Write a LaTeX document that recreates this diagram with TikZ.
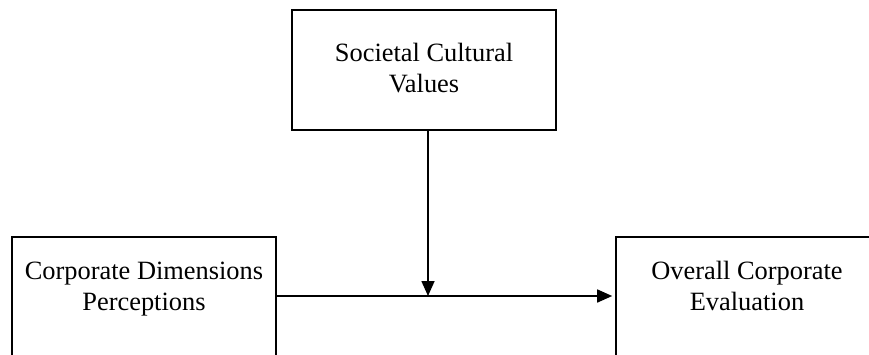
\documentclass[tikz,border=0pt]{standalone}
\usepackage{fontspec}
\setmainfont{Liberation Serif}
\usetikzlibrary{arrows.meta}
\begin{document}
\begin{tikzpicture}[x=1pt,y=-1pt,
  box/.style={draw, line width=1.6pt, minimum width=264pt, minimum height=120pt,
    align=center, inner sep=0pt, font=\fontsize{26.4}{31}\selectfont},
  arr/.style={line width=1.6pt, -{Triangle[length=15pt,width=13pt]}}]
  \useasboundingbox (0,0) rectangle (869,354);
  \clip (0,0) rectangle (869,354);
  % the three constructs
  \node[box, text depth=4pt] (scv) at (424,70) {Societal Cultural\\Values};
  \node[box, text depth=22pt] (cdp) at (144,297) {Corporate Dimensions\\Perceptions};
  \node[box, text depth=22pt, minimum width=262pt] (oce) at (747,297) {Overall Corporate\\Evaluation};
  % moderating point on the main path
  \coordinate (mid) at (428,296);
  % main effect and moderation
  \draw[arr, shorten >=3pt] (cdp.east |- mid) -- (oce.west |- mid);
  \draw[arr] (mid |- scv.south) -- (mid);
\end{tikzpicture}
\end{document}
